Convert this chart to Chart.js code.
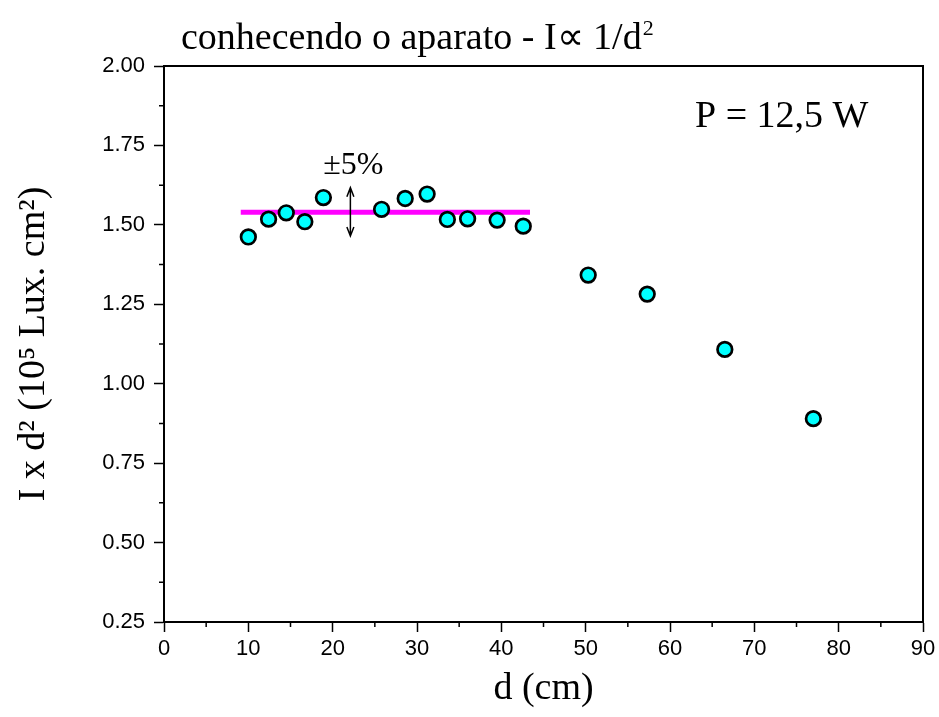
<!DOCTYPE html>
<html><head><meta charset="utf-8">
<script src="https://cdn.jsdelivr.net/npm/chart.js@4.4.1/dist/chart.umd.min.js"></script>
<style>html,body{margin:0;padding:0;background:#fff}#wrap{width:939px;height:717px;position:relative}</style>
</head><body><div id="wrap"><canvas id="c" width="939" height="717"></canvas></div>
<script>
// ---- data ----
const distances   = [10.0, 12.4, 14.5, 16.7, 18.9, 25.8, 28.6, 31.2, 33.6, 36.0, 39.5, 42.6, 50.3, 57.3, 66.5, 77.0];
const intensityD2 = [1.462, 1.518, 1.538, 1.510, 1.586, 1.549, 1.583, 1.597, 1.517, 1.519, 1.515, 1.496, 1.342, 1.282, 1.108, 0.890];
const plateauX = [9.1, 43.4];
const plateauY = [1.54, 1.54];
const arrowX = 22.1;
const arrowY = [1.465, 1.617];
const xTicks = [0, 10, 20, 30, 40, 50, 60, 70, 80, 90];
const yTicks = [0.25, 0.50, 0.75, 1.00, 1.25, 1.50, 1.75, 2.00];
const xMinor = [5, 15, 25, 35, 45, 55, 65, 75, 85];
const yMinor = [0.375, 0.625, 0.875, 1.125, 1.375, 1.625, 1.875];
const titleMain = 'conhecendo o aparato - I\u221D 1/d';
const titleSup = '2';
const xTitle = 'd (cm)';
const yTitle = 'I x d\u00B2 (10\u2075 Lux. cm\u00B2)';
const powerLabel = 'P = 12,5 W';
const tolLabel = '\u00B15%';

const SERIF = '"Liberation Serif", "Times New Roman", serif';
const SANS = '"Liberation Sans", Arial, sans-serif';

const pts = distances.map((d, i) => ({x: d, y: intensityD2[i]}));
const plateau = plateauX.map((x, i) => ({x, y: plateauY[i]}));

const decor = {
  id: 'decor',
  afterDraw(chart) {
    const ctx = chart.ctx;
    const a = chart.chartArea;
    const xs = chart.scales.x, ys = chart.scales.y;
    ctx.save();
    // frame top / right
    ctx.strokeStyle = '#000';
    ctx.lineWidth = 2;
    ctx.beginPath();
    ctx.moveTo(a.left, a.top); ctx.lineTo(a.right, a.top); ctx.lineTo(a.right, a.bottom);
    ctx.stroke();
    // minor ticks
    ctx.lineWidth = 1.5;
    ctx.beginPath();
    xMinor.forEach(v => { const p = xs.getPixelForValue(v); ctx.moveTo(p, a.bottom); ctx.lineTo(p, a.bottom + 5); });
    yMinor.forEach(v => { const p = ys.getPixelForValue(v); ctx.moveTo(a.left, p); ctx.lineTo(a.left - 5, p); });
    ctx.stroke();
    // title
    ctx.fillStyle = '#000';
    ctx.textBaseline = 'alphabetic';
    ctx.textAlign = 'left';
    ctx.font = '38px ' + SERIF;
    ctx.fillText(titleMain, 181, 49);
    const w = ctx.measureText(titleMain).width;
    ctx.font = '22px ' + SERIF;
    ctx.fillText(titleSup, 181 + w + 1, 35);
    // P label
    ctx.font = '38px ' + SERIF;
    ctx.fillText(powerLabel, 695, 127);
    // arrow
    const ax = xs.getPixelForValue(arrowX);
    const y1 = ys.getPixelForValue(arrowY[0]);
    const y2 = ys.getPixelForValue(arrowY[1]);
    ctx.lineWidth = 1.5;
    ctx.beginPath();
    ctx.moveTo(ax, y1); ctx.lineTo(ax, y2);
    ctx.moveTo(ax - 3.5, y2 + 9); ctx.lineTo(ax, y2); ctx.lineTo(ax + 3.5, y2 + 9);
    ctx.moveTo(ax - 3.5, y1 - 9); ctx.lineTo(ax, y1); ctx.lineTo(ax + 3.5, y1 - 9);
    ctx.stroke();
    // ±5%
    ctx.font = '32px ' + SERIF;
    ctx.textAlign = 'center';
    ctx.fillText(tolLabel, ax + 3, 174);
    ctx.restore();
  }
};

new Chart(document.getElementById('c'), {
  type: 'scatter',
  data: {
    datasets: [
      {
        label: 'I x d2',
        data: pts,
        backgroundColor: '#00FFFF',
        borderColor: '#000000',
        pointRadius: 7.3,
        pointHoverRadius: 7.3,
        pointBorderWidth: 2.7,
        showLine: false
      },
      {
        label: 'media',
        data: plateau,
        showLine: true,
        borderColor: '#FF00FF',
        borderWidth: 5,
        pointRadius: 0,
        fill: false
      }
    ]
  },
  options: {
    responsive: false,
    animation: false,
    devicePixelRatio: 1,
    layout: { padding: { top: 66, right: 16, left: 0, bottom: 0 } },
    plugins: { legend: { display: false }, tooltip: { enabled: false }, title: { display: false } },
    scales: {
      x: {
        type: 'linear',
        min: 0, max: 90,
        afterBuildTicks: s => { s.ticks = xTicks.map(v => ({value: v})); },
        afterFit: s => { s.height = 95; s.paddingLeft = 0; s.paddingRight = 0; },
        grid: { drawOnChartArea: false, drawTicks: true, tickLength: 10, tickColor: '#000', tickWidth: 1.5 },
        border: { display: true, color: '#000', width: 2 },
        ticks: { color: '#000', font: { family: SANS, size: 22 }, padding: 4, maxRotation: 0, callback: v => String(v) },
        title: { display: true, text: xTitle, color: '#000', font: { family: SERIF, size: 38, lineHeight: 1 }, padding: { top: 0, bottom: 9 } }
      },
      y: {
        type: 'linear',
        min: 0.25, max: 2.0,
        afterBuildTicks: s => { s.ticks = yTicks.map(v => ({value: v})); },
        afterFit: s => { s.width = 164; s.paddingTop = 0; s.paddingBottom = 0; },
        grid: { drawOnChartArea: false, drawTicks: true, tickLength: 10, tickColor: '#000', tickWidth: 1.5 },
        border: { display: true, color: '#000', width: 2 },
        ticks: { color: '#000', font: { family: SANS, size: 22 }, padding: 9, callback: v => Number(v).toFixed(2) },
        title: { display: true, text: yTitle, color: '#000', font: { family: SERIF, size: 38, lineHeight: 1 }, padding: { top: 15, bottom: 0 } }
      }
    }
  },
  plugins: [decor]
});
</script>
</body></html>
